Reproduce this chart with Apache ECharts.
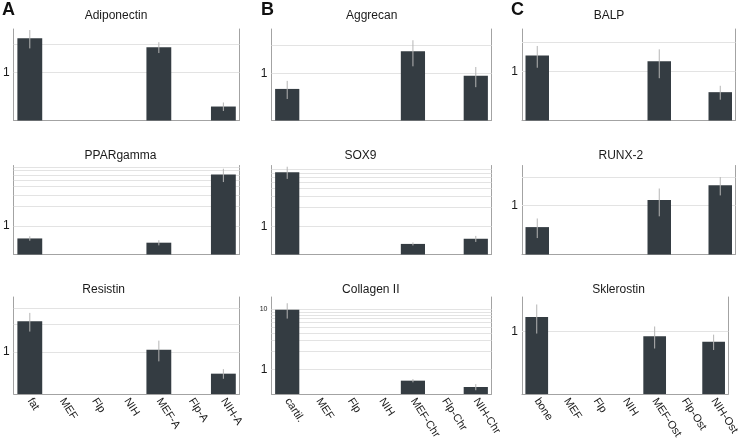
<!DOCTYPE html>
<html><head><meta charset="utf-8">
<script src="https://cdn.jsdelivr.net/npm/echarts@6/dist/echarts.min.js"></script>
<style>html,body{margin:0;padding:0;background:#fff}#c{width:741px;height:443px}</style>
</head><body><div id="c"></div>
<script>
// ---- categories ----
const catsA = ['fat','MEF','Flp','NIH','MEF-A','Flp-A','NIH-A'];
const catsB = ['cartil.','MEF','Flp','NIH','MEF-Chr','Flp-Chr','NIH-Chr'];
const catsC = ['bone','MEF','Flp','NIH','MEF-Ost','Flp-Ost','NIH-Ost'];

// ---- panel titles ----
const titlesRow1 = ['Adiponectin','Aggrecan','BALP'];
const titlesRow2 = ['PPARgamma','SOX9','RUNX-2'];
const titlesRow3 = ['Resistin','Collagen II','Sklerostin'];
const panelLetters = ['A','B','C'];

// ---- values (relative expression) and error ----
const adiponectin    = [2.29, null, null, null, 1.84, null, 0.44];
const adiponectinErr = [0.50, null, null, null, 0.24, null, 0.045];
const aggrecan       = [0.68, null, null, null, 1.73, null, 0.94];
const aggrecanErr    = [0.15, null, null, null, 0.54, null, 0.23];
const balp           = [1.46, null, null, null, 1.27, null, 0.61];
const balpErr        = [0.37, null, null, null, 0.42, null, 0.10];

const ppargamma      = [0.65, null, null, null, 0.56, null, 6.1];
const ppargammaErr   = [0.05, null, null, null, 0.05, null, 1.4];
const sox9           = [7.3, null, null, null, 0.53, null, 0.64];
const sox9Err        = [1.6, null, null, null, 0.03, null, 0.07];
const runx2          = [0.59, null, null, null, 1.15, null, 1.66];
const runx2Err       = [0.14, null, null, null, 0.38, null, 0.37];

const resistin       = [2.17, null, null, null, 1.06, null, 0.58];
const resistinErr    = [0.50, null, null, null, 0.27, null, 0.07];
const collagen2      = [9.8, null, null, null, 0.65, null, 0.51];
const collagen2Err   = [2.8, null, null, null, 0.04, null, 0.06];
const sklerostin     = [1.32, null, null, null, 0.91, null, 0.82];
const sklerostinErr  = [0.36, null, null, null, 0.19, null, 0.12];

// ---- y axis ranges (log scale) and gridline values ----
const yMin = [0.314, 0.311, 0.311, 0.37, 0.36, 0.30, 0.348, 0.39, 0.30];
const yMax = [2.86, 3.0, 2.74, 8.4, 9.3, 2.7, 3.98, 16, 1.94];
const gridVals = [
  [1,2],[1,2],[1,2],
  [1,2,3,4,5,6,7,8],[1,2,3,4,5,6,7,8],[1,2],
  [1,2,3],[1,2,3,4,5,6,7,8,9,10],[1]
];

// ---- assemble ----
const catsByCol = [catsA, catsB, catsC];
const titles = [titlesRow1, titlesRow2, titlesRow3];
const values = [[adiponectin, aggrecan, balp],[ppargamma, sox9, runx2],[resistin, collagen2, sklerostin]];
const errors = [[adiponectinErr, aggrecanErr, balpErr],[ppargammaErr, sox9Err, runx2Err],[resistinErr, collagen2Err, sklerostinErr]];

const cols = [{left:12.5,width:227},{left:271.5,width:220},{left:522,width:213.5}];
const rows = [{top:29,height:91.5},{top:165.5,height:89},{top:297,height:97}];
const titleCenters = [[116,371.7,609],[120.5,360.5,620.8],[103.7,370.8,618.5]];
const titleTops = [10,150,284];
const letterLefts = [2,261,511];

const AXIS_COLOR = '#a3a3a3';
const BAR_COLOR = '#343c42';
const BAR_FRACTION = 0.77;
const FONT = '"Liberation Sans", Arial, sans-serif';

const grid = [], xAxis = [], yAxis = [], series = [], title = [];
panelLetters.forEach((L, c) => {
  title.push({text: L, left: letterLefts[c], top: 1, padding: 0,
    textStyle: {fontSize: 18, fontWeight: 'bold', color: '#111', fontFamily: FONT}});
});
for (let r = 0; r < 3; r++) {
  for (let c = 0; c < 3; c++) {
    const i = r * 3 + c;
    const cats = catsByCol[c];
    grid.push({left: cols[c].left, width: cols[c].width, top: rows[r].top, height: rows[r].height});
    title.push({text: titles[r][c], left: titleCenters[r][c], top: titleTops[r], textAlign: 'center', padding: 0,
      textStyle: {fontSize: 12, fontWeight: 'normal', color: '#1a1a1a', fontFamily: FONT}});
    xAxis.push({type: 'category', gridIndex: i, data: cats,
      axisLine: {show: true, lineStyle: {color: AXIS_COLOR, width: 1}},
      axisTick: {show: false}, splitLine: {show: false},
      axisLabel: {show: r === 2, interval: 0, rotate: -57, margin: 5, fontSize: 11, color: '#1a1a1a', fontFamily: FONT}});
    yAxis.push({type: 'log', logBase: 10, gridIndex: i, min: yMin[i], max: yMax[i],
      axisLine: {show: true, lineStyle: {color: AXIS_COLOR, width: 1}},
      axisTick: {show: false}, splitLine: {show: false},
      axisLabel: {show: true, margin: 4, fontSize: 12, color: '#1a1a1a', fontFamily: FONT,
        formatter: v => Math.abs(v - 1) < 1e-6 ? '1' : (Math.abs(v - 10) < 1e-5 ? '{s|10}' : ''),
        rich: {s: {fontSize: 7, color: '#222', fontFamily: FONT}}}});
    yAxis.push({type: 'log', logBase: 10, gridIndex: i, min: yMin[i], max: yMax[i], position: 'right',
      axisLine: {show: true, lineStyle: {color: AXIS_COLOR, width: 1}},
      axisTick: {show: false}, splitLine: {show: false}, axisLabel: {show: false}});

    const bars = [], eb = [];
    values[r][c].forEach((v, j) => {
      if (v != null) {
        bars.push([j, v]);
        eb.push([j, v - errors[r][c][j], v + errors[r][c][j]]);
      }
    });
    // bars drawn from the bottom of the plot (log axis has no zero)
    series.push({type: 'custom', xAxisIndex: i, yAxisIndex: 2 * i, z: 2, silent: true,
      encode: {x: 0, y: 1}, data: bars,
      renderItem: (params, api) => {
        const cs = params.coordSys;
        const top = api.coord([api.value(0), api.value(1)]);
        const w = api.size([1, 0])[0] * BAR_FRACTION;
        const bottom = cs.y + cs.height;
        return {type: 'rect', shape: {x: top[0] - w / 2, y: top[1], width: w, height: bottom - top[1]},
          style: {fill: BAR_COLOR}};
      },
      markLine: {silent: true, z: 1, symbol: ['none', 'none'], label: {show: false}, animation: false,
        emphasis: {disabled: true},
        lineStyle: {color: '#e3e3e3', type: 'solid', width: 1},
        data: gridVals[i].map(v => ({yAxis: v}))}});
    series.push({type: 'custom', xAxisIndex: i, yAxisIndex: 2 * i, z: 3, silent: true,
      encode: {x: 0, y: [1, 2]}, data: eb,
      renderItem: (params, api) => {
        const x = api.value(0);
        const p1 = api.coord([x, api.value(1)]);
        const p2 = api.coord([x, api.value(2)]);
        return {type: 'line', shape: {x1: p1[0], y1: p1[1], x2: p2[0], y2: p2[1]},
          style: {stroke: '#b5b5b5', lineWidth: 1}};
      }});
  }
}

const chart = echarts.init(document.getElementById('c'), null, {renderer: 'canvas'});
chart.setOption({animation: false, backgroundColor: '#fff', title, grid, xAxis, yAxis, series});
</script>
</body></html>
